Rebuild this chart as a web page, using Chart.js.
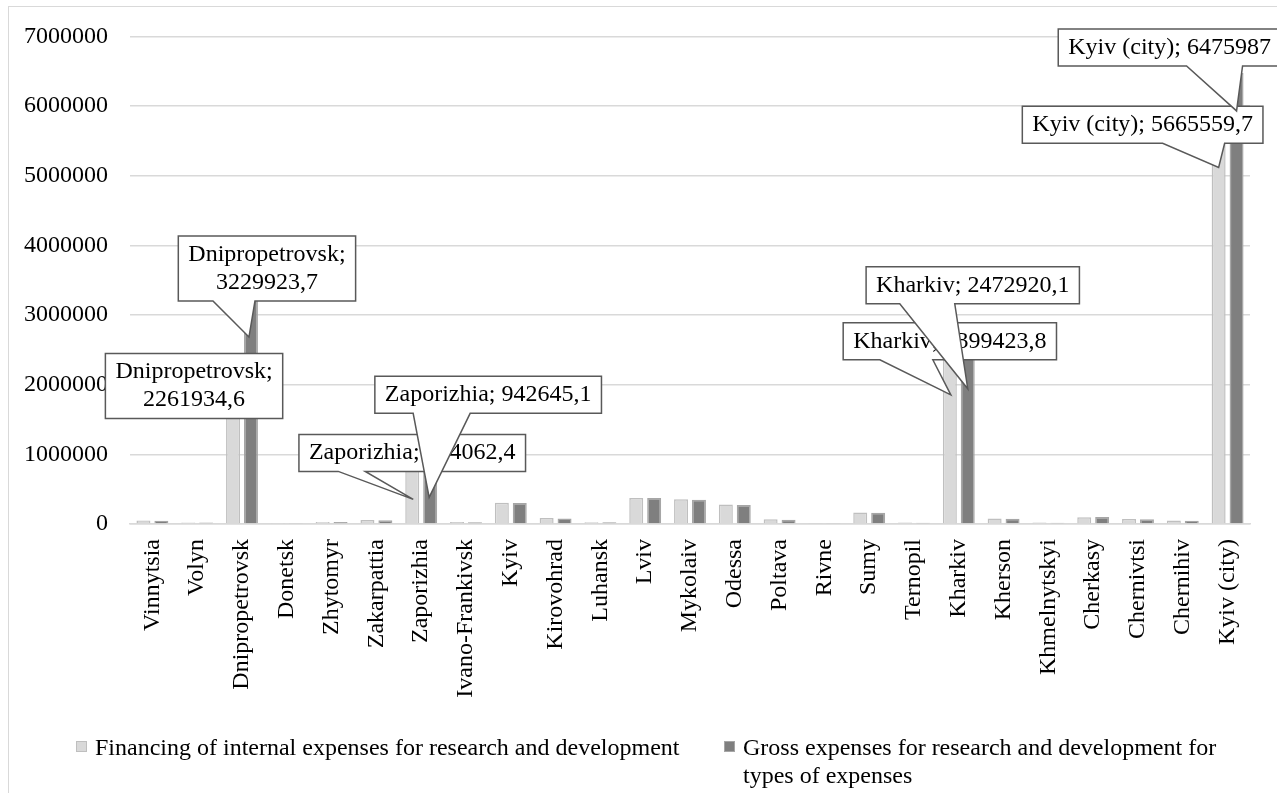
<!DOCTYPE html>
<html>
<head>
<meta charset="utf-8">
<script src="https://cdn.jsdelivr.net/npm/chart.js@4"></script>
<style>
body{margin:0;background:#fff;font-family:"Liberation Serif","Times New Roman",serif;}
#wrap{position:relative;width:1277px;height:793px;overflow:hidden;}
#frame{position:absolute;left:8px;top:6px;width:1300px;height:800px;border-left:1.5px solid #d9d9d9;border-top:1.5px solid #d9d9d9;}
canvas{position:absolute;left:0;top:0;}
.leg{position:absolute;font-size:24px;line-height:28px;color:#000;padding-left:19px;}
.leg i{position:absolute;left:0;top:8px;width:11px;height:11px;box-sizing:border-box;}
</style>
</head>
<body>
<div id="wrap">
  <div id="frame"></div>
  <canvas id="myChart" width="1277" height="793"></canvas>
  <div class="leg" style="left:76px;top:733px;"><i style="background:#d9d9d9;border:1px solid #bfbfbf"></i>Financing of internal expenses for research and development</div>
  <div class="leg" style="left:724px;top:733px;width:500px;"><i style="background:#7f7f7f;border:1px solid #a6a6a6"></i>Gross expenses for research and development for types of expenses</div>
</div>
<script>
const regiones = ["Vinnytsia","Volyn","Dnipropetrovsk","Donetsk","Zhytomyr","Zakarpattia","Zaporizhia",
"Ivano-Frankivsk","Kyiv","Kirovohrad","Luhansk","Lviv","Mykolaiv","Odessa","Poltava","Rivne","Sumy",
"Ternopil","Kharkiv","Kherson","Khmelnytskyi","Cherkasy","Chernivtsi","Chernihiv","Kyiv (city)"];

const financiacion = [52000,22000,2261934.6,15000,30000,58000,784062.4,28000,305000,85000,25000,375000,
355000,280000,68000,14000,165000,20000,2399423.8,78000,20000,98000,72000,50000,5665559.7];

const gastos = [48000,20000,3229923.7,14000,28000,55000,942645.1,26000,300000,80000,24000,372000,
348000,272000,62000,13000,160000,19000,2472920.1,74000,19000,100000,68000,46000,6475987];

const yMax = 7000000;
const yPaso = 1000000;

// callouts: ds = dataset, i = category; offsets are from the bar top
const llamadas = [
    {ds:0, i:2,  dos:true, cx:-39, top:-13},
    {ds:1, i:2,  dos:true, cx:16,  top:-63, base:[-38,4],   tip:[-2,38]},
    {ds:0, i:6,  cx:0,   top:-35, base:[-74,-47], tip:[1,30]},
    {ds:1, i:6,  cx:58,  top:-82, base:[-17,40],  tip:[-1,39]},
    {ds:0, i:18, cx:0,   top:-34, base:[-70,-17], tip:[1,38]},
    {ds:1, i:18, cx:5,   top:-85, base:[-68,-13], tip:[0,37]},
    {ds:0, i:24, cx:-76, top:-23, base:[-56,6],   tip:[0,38]},
    {ds:1, i:24, cx:-67, top:-44, base:[-50,6],   tip:[0,38]}
];

const fuente = '24px "Liberation Serif", "Times New Roman", serif';

const pluginLlamadas = {
    id: 'llamadas',
    afterDatasetsDraw(chart){
        const ctx = chart.ctx;
        ctx.save();
        ctx.font = fuente;
        llamadas.forEach(function(c){
            const bar = chart.getDatasetMeta(c.ds).data[c.i];
            const valor = chart.data.datasets[c.ds].data[c.i];
            const num = String(valor).replace('.', ',');
            const nombre = chart.data.labels[c.i];
            const lineas = c.dos ? [nombre + ';', num] : [nombre + '; ' + num];
            let ancho = 0;
            lineas.forEach(l => { ancho = Math.max(ancho, ctx.measureText(l).width); });
            const w = ancho + 20;
            const h = lineas.length * 28 + 9;
            const x0 = bar.x + c.cx - w / 2;
            const y0 = bar.y + c.top;
            ctx.beginPath();
            ctx.moveTo(x0, y0);
            ctx.lineTo(x0 + w, y0);
            ctx.lineTo(x0 + w, y0 + h);
            if(c.tip){
                ctx.lineTo(bar.x + c.base[1], y0 + h);
                ctx.lineTo(bar.x + c.tip[0], bar.y + c.tip[1]);
                ctx.lineTo(bar.x + c.base[0], y0 + h);
            }
            ctx.lineTo(x0, y0 + h);
            ctx.closePath();
            ctx.fillStyle = '#fff';
            ctx.fill();
            ctx.strokeStyle = '#595959';
            ctx.lineWidth = 1.5;
            ctx.stroke();
            ctx.fillStyle = '#000';
            ctx.textAlign = 'center';
            ctx.textBaseline = 'middle';
            lineas.forEach(function(l, k){
                ctx.fillText(l, x0 + w / 2, y0 + 4.5 + 14 + k * 28);
            });
        });
        ctx.restore();
    }
};

function graficos(){
    const ctx = document.getElementById('myChart').getContext('2d');
    new Chart(ctx, {
        type: 'bar',
        data: {
            labels: regiones,
            datasets: [{
                label: 'Financing of internal expenses for research and development',
                data: financiacion,
                backgroundColor: '#d9d9d9',
                borderColor: '#bfbfbf',
                borderWidth: 1.5
            },{
                label: 'Gross expenses for research and development for types of expenses',
                data: gastos,
                backgroundColor: '#7f7f7f',
                borderColor: '#a6a6a6',
                borderWidth: 1.5
            }]
        },
        options: {
            responsive: false,
            animation: false,
            devicePixelRatio: 1,
            layout: { padding: { left: 0, top: 35, right: 27, bottom: 89 } },
            datasets: { bar: { categoryPercentage: 0.8, barPercentage: 0.78 } },
            scales: {
                x: {
                    grid: { display: false },
                    border: { display: true, color: '#d9d9d9', width: 1.5 },
                    ticks: {
                        autoSkip: false, minRotation: 90, maxRotation: 90, padding: 7,
                        color: '#000', font: { family: '"Liberation Serif", "Times New Roman", serif', size: 24 }
                    },
                    afterFit(scale){ scale.height = 180; }
                },
                y: {
                    min: 0, max: yMax,
                    grid: { color: '#d9d9d9', lineWidth: 1.5, drawTicks: false },
                    border: { display: false },
                    ticks: {
                        stepSize: yPaso, padding: 22, color: '#000',
                        font: { family: '"Liberation Serif", "Times New Roman", serif', size: 24 },
                        callback: v => String(v)
                    },
                    afterFit(scale){ scale.width = 130; }
                }
            },
            plugins: {
                legend: { display: false },
                tooltip: { enabled: false }
            }
        },
        plugins: [pluginLlamadas]
    });
}

window.addEventListener("load", graficos);
</script>
</body>
</html>
